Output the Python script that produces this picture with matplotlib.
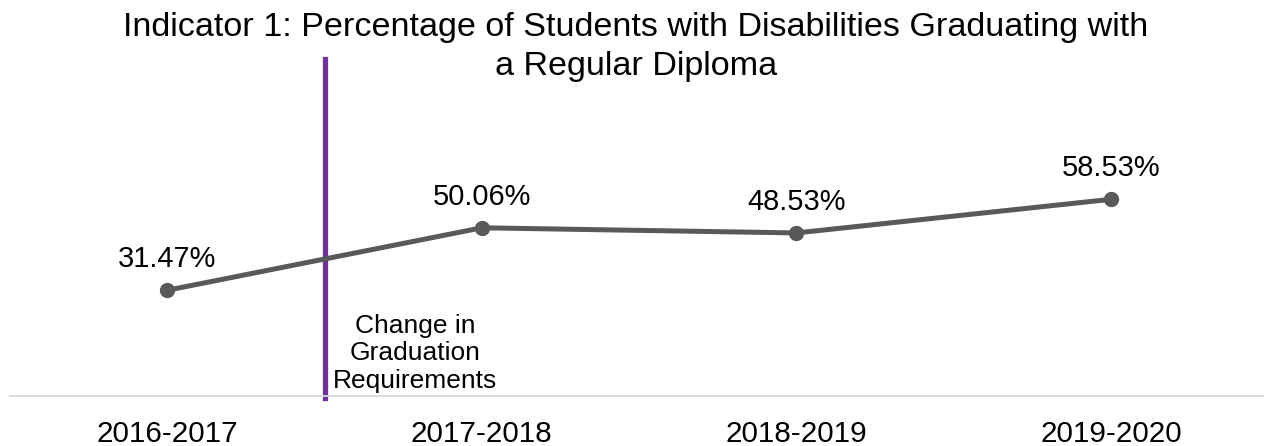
import matplotlib.pyplot as plt

plt.rcParams['font.family'] = ['Liberation Sans', 'DejaVu Sans']

# datos
anios = ['2016-2017', '2017-2018', '2018-2019', '2019-2020']
porcentajes = [31.47, 50.06, 48.53, 58.53]
etiquetas = ['31.47%', '50.06%', '48.53%', '58.53%']
nota = 'Change in\nGraduation\nRequirements'
titulo = ('Indicator 1: Percentage of Students with Disabilities Graduating with\n'
          'a Regular Diploma')

W, H = 1264, 446
fig = plt.figure(figsize=(W / 100, H / 100), dpi=100)
ax = fig.add_axes([10 / W, 1 - 396 / H, 1254 / W, 336 / H])

x = list(range(len(anios)))
ax.plot(x, porcentajes, color='#595959', linewidth=3.6, marker='o',
        markersize=10, solid_capstyle='round', zorder=3)

for xi, yi, txt in zip(x, porcentajes, etiquetas):
    ax.annotate(txt, (xi, yi), xytext=(0, 16.5), textcoords='offset points',
                ha='center', va='baseline', fontsize=20.9, color='black')

# linea de cambio de requisitos
ax.axvline(0.5, ymin=-0.006, ymax=1.003, color='#7030a0', linewidth=3.8,
           clip_on=False, zorder=2)
ax.annotate(nota, (0.5, 0), xytext=(6, 2.5), textcoords='offset points',
            ha='left', va='bottom', multialignment='center',
            fontsize=19, linespacing=1.17, color='black')

ax.set_xlim(-0.5, 3.487)
ax.set_ylim(0, 100)
ax.set_xticks(x)
ax.set_xticklabels(anios, fontsize=21.3)
ax.tick_params(axis='x', length=0, pad=17)
ax.set_yticks([])
for lado in ['top', 'right', 'left']:
    ax.spines[lado].set_visible(False)
ax.spines['bottom'].set_color('#d9d9d9')
ax.spines['bottom'].set_linewidth(1.3)

fig.text(636 / W, 1 - 12 / H, titulo, ha='center', va='top',
         fontsize=24.6, linespacing=1.33, color='black')

plt.savefig('out.png', dpi=100)
plt.close()
